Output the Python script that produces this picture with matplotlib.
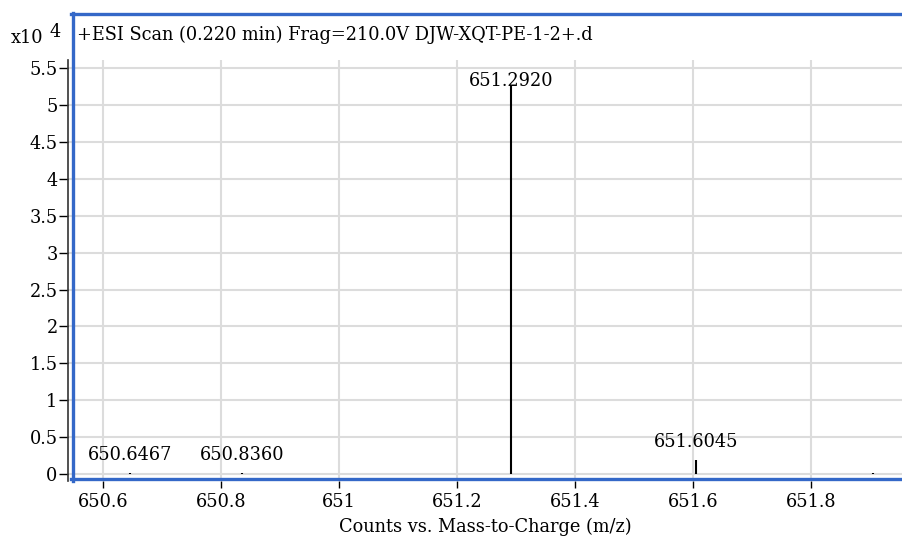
import matplotlib
matplotlib.use("Agg")
import matplotlib.pyplot as plt
from matplotlib.lines import Line2D

plt.rcParams['font.family'] = ['DejaVu Serif']

# peaks
mz = [650.6467, 650.8360, 651.2920, 651.6045, 651.905]
counts = [180, 180, 52750, 1900, 150]
peak_labels = ['650.6467', '650.8360', '651.2920', '651.6045', '']

xticks = [650.6, 650.8, 651.0, 651.2, 651.4, 651.6, 651.8]
xticklabels = ['650.6', '650.8', '651', '651.2', '651.4', '651.6', '651.8']
yticks = [0, 0.5, 1, 1.5, 2, 2.5, 3, 3.5, 4, 4.5, 5, 5.5]
yticklabels = ['0', '0.5', '1', '1.5', '2', '2.5', '3', '3.5', '4', '4.5', '5', '5.5']

title = '+ESI Scan (0.220 min) Frag=210.0V DJW-XQT-PE-1-2+.d'
xlabel = 'Counts vs. Mass-to-Charge (m/z)'

W, H = 902, 539
fs = 12.8
fig = plt.figure(figsize=(W / 100, H / 100), dpi=100)
ax = fig.add_axes([68 / W, (H - 481) / H, (W - 68) / W, (481 - 60) / H])

scale = 1e4
ax.vlines(mz, 0, [c / scale for c in counts], color='black', lw=1.5, zorder=3)
for x, c, lab in zip(mz, counts, peak_labels):
    if lab:
        y = min(c / scale + 0.237, 5.33)
        ax.text(x, y, lab, ha='center', va='center', fontsize=fs, zorder=4)

ax.set_xlim(650.541, 651.954)
ax.set_ylim(-0.095, 5.613)
ax.set_xticks(xticks)
ax.set_xticklabels(xticklabels)
ax.set_yticks(yticks)
ax.set_yticklabels(yticklabels)
ax.grid(True, color='#dcdcdc', lw=1.5, zorder=0)
ax.set_axisbelow(True)

for s in ['top', 'right', 'bottom']:
    ax.spines[s].set_visible(False)
ax.spines['left'].set_color('#333333')
ax.spines['left'].set_linewidth(1.2)
ax.tick_params(axis='x', length=5, width=1, pad=3.5, labelsize=fs, colors='black')
ax.tick_params(axis='y', length=6.5, width=1, pad=1, labelsize=fs, colors='black')
ax.set_xlabel(xlabel, fontsize=fs, labelpad=5)

# blue frame
blue = '#3468c8'
fig.add_artist(Line2D([72.5 / W, 72.5 / W], [1 - 13 / H, 1 - 481 / H], color=blue, lw=2.4,
                      transform=fig.transFigure))
fig.add_artist(Line2D([71 / W, 1], [1 - 13.5 / H, 1 - 13.5 / H], color=blue, lw=2.4,
                      transform=fig.transFigure))
fig.add_artist(Line2D([71 / W, 1], [1 - 479 / H, 1 - 479 / H], color=blue, lw=2.4,
                      transform=fig.transFigure))

fig.text(77 / W, 1 - 35 / H, title, ha='left', va='center', fontsize=fs)
fig.text(11 / W, 1 - 38 / H, 'x10', ha='left', va='center', fontsize=fs)
fig.text(50 / W, 1 - 32 / H, '4', ha='left', va='center', fontsize=fs)

fig.savefig('out.png', dpi=100)
